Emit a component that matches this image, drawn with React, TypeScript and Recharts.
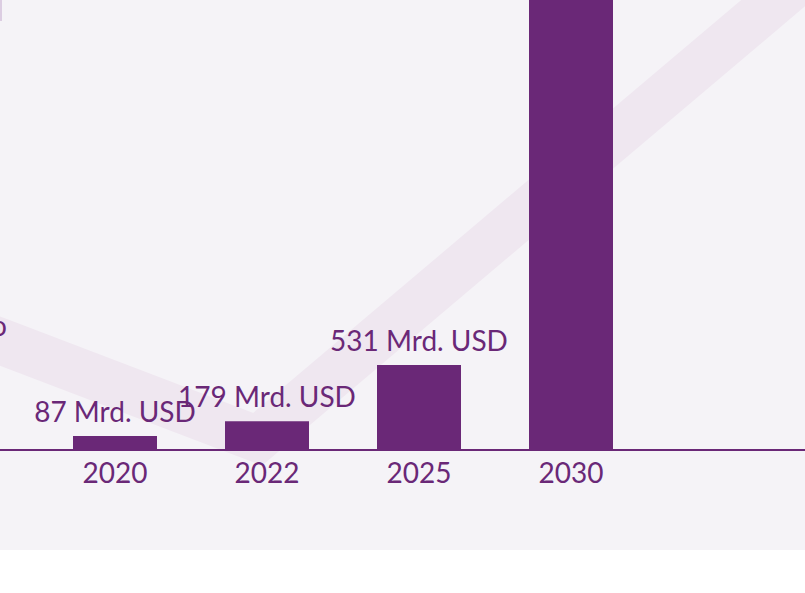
import React from "react";
import {Bar, ComposedChart, LabelList, Line, LineChart, XAxis, YAxis} from "recharts";

// market volume per year (Mrd. USD)
const years = ["2020", "2022", "2025", "2030"];
const volumes = [87, 179, 531, 3000];

// decorative trend band behind the bars (0..100 units on hidden axes)
const decoT = [0, 32, 96.5];
const decoV = [24.2, 2.4, 100];

const PURPLE = "#6a2877";
const BG = "#f5f3f7";

const data = years.map((year, i) => ({year, value: volumes[i]}));
const decoData = decoT.map((t, i) => ({t, v: decoV[i]}));

const ValueLabel = (props: any) => {
    const {x, y, width, value} = props;
    if (y < 20) return null;
    return (
        <text x={x + width / 2} y={y - 14}
              textAnchor={"middle"}
              fill={PURPLE}
              fontSize={28}
              fontFamily={"Lato"}
        >
            {`${value} Mrd. USD`}
        </text>
    );
};

const YearTick = ({x, y, payload}: any) => {
    return (
        <g transform={`translate(${x},${y})`}>
            <text x={0} y={0} dy={33}
                  textAnchor={"middle"}
                  fill={PURPLE}
                  fontSize={28}
                  fontFamily={"Lato"}
            >
                {payload.value}
            </text>
        </g>
    );
};

const App = () => {
    return (
        <div style={{position: "absolute", left: 0, top: 0, width: 805, height: 593, background: "#fff", overflow: "hidden"}}>
            <div style={{position: "relative", width: 805, height: 550, background: BG}}>
                <div style={{position: "absolute", left: 0, top: 0, width: 2, height: 21, background: "#dccde2"}}/>
                {/* background band, drawn in its own chart so it stays behind the bars */}
                <div style={{position: "absolute", left: 0, top: 0}}>
                    <LineChart width={805}
                               height={550}
                               data={decoData}
                               margin={{top: 0, right: 0, bottom: 0, left: 0}}
                    >
                        <XAxis type={"number"} dataKey={"t"} domain={[0, 100]} height={100} axisLine={false} tick={false} tickLine={false}/>
                        <YAxis hide domain={[0, 100]}/>
                        <Line dataKey={"v"}
                              stroke={"#efe7f0"}
                              strokeWidth={46}
                              strokeLinecap={"square"}
                              strokeLinejoin={"miter"}
                              dot={false}
                              activeDot={false}
                              isAnimationActive={false}
                        />
                    </LineChart>
                </div>
                <div style={{position: "absolute", left: 0, top: 0}}>
                    <ComposedChart width={805}
                                   height={550}
                                   data={data}
                                   margin={{top: 0, right: 0, bottom: 0, left: 0}}
                    >
                        <XAxis dataKey={"year"}
                               height={100}
                               padding={{left: 39, right: 158}}
                               axisLine={{stroke: PURPLE, strokeWidth: 2}}
                               tickLine={false}
                               tickSize={0}
                               tickMargin={0}
                               tick={<YearTick/>}
                        />
                        <YAxis hide domain={[0, 2812]} allowDataOverflow/>
                        <Bar dataKey={"value"}
                             fill={PURPLE}
                             barSize={84}
                             isAnimationActive={false}
                        >
                            <LabelList dataKey={"value"} content={<ValueLabel/>}/>
                        </Bar>
                    </ComposedChart>
                </div>
                <div style={{position: "absolute", left: -9, top: 311, fontFamily: "Lato", fontSize: 28, color: PURPLE, lineHeight: "29px"}}>o</div>
            </div>
        </div>
    );
};

export default App;
